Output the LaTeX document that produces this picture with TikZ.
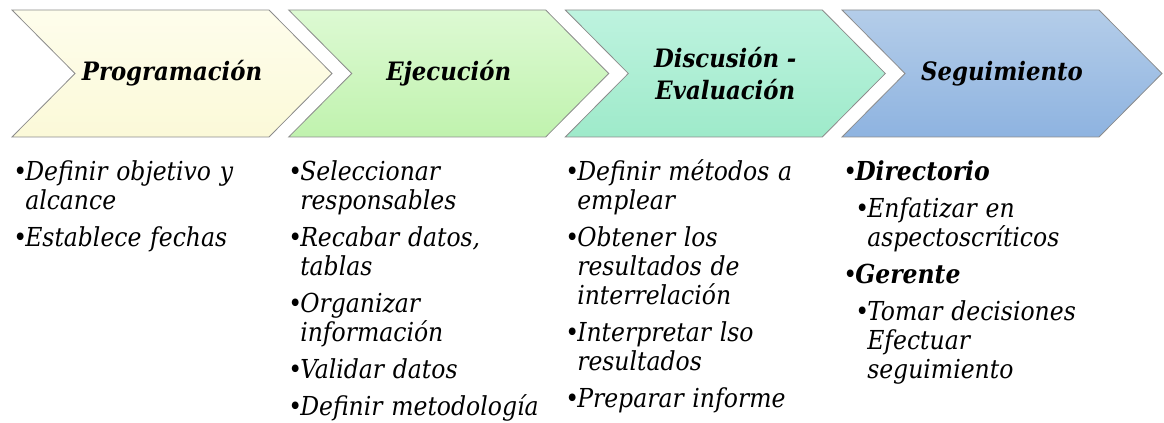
\documentclass[tikz,border=0pt]{standalone}
\usepackage{fontspec}
\setmainfont{DejaVu Serif Condensed}

\definecolor{progTop}{RGB}{254,253,236}
\definecolor{progBot}{RGB}{251,249,216}
\definecolor{ejecTop}{RGB}{221,250,211}
\definecolor{ejecBot}{RGB}{192,242,174}
\definecolor{discTop}{RGB}{190,243,223}
\definecolor{discBot}{RGB}{158,234,202}
\definecolor{seguTop}{RGB}{180,205,233}
\definecolor{seguBot}{RGB}{142,179,224}
\definecolor{chevLine}{RGB}{140,140,140}

% bullet item, optional extra indent
\newcommand{\itm}[2][0pt]{\par\noindent\hangindent=\dimexpr#1+9pt\relax\hangafter=1\hspace*{#1}\makebox[9pt][l]{\textbullet}#2}

\begin{document}
\begin{tikzpicture}[x=0.75pt,y=0.75pt,yscale=-1,
  chev/.style={draw=chevLine,line width=0.6pt},
  title/.style={font=\fontsize{19}{24.5}\selectfont\bfseries\itshape,align=center,inner sep=0pt},
  items/.style={font=\fontsize{19.6}{21.75}\selectfont\itshape,text width=270pt,align=left,inner sep=0pt,anchor=north west,
    execute at begin node={\setlength{\parskip}{6pt}}}]
\useasboundingbox (0,0) rectangle (1164,423);

%Shape: Chevron [Programacion]
\draw [chev,top color=progTop,bottom color=progBot] (12,10) -- (269,10) -- (332,73.5) -- (269,137) -- (12,137) -- (75,73.5) -- cycle ;
%Shape: Chevron [Ejecucion]
\draw [chev,top color=ejecTop,bottom color=ejecBot] (288.7,10) -- (545.7,10) -- (608.7,73.5) -- (545.7,137) -- (288.7,137) -- (351.7,73.5) -- cycle ;
%Shape: Chevron [Discusion]
\draw [chev,top color=discTop,bottom color=discBot] (565.3,10) -- (822.3,10) -- (885.3,73.5) -- (822.3,137) -- (565.3,137) -- (628.3,73.5) -- cycle ;
%Shape: Chevron [Seguimiento]
\draw [chev,top color=seguTop,bottom color=seguBot] (842,10) -- (1099,10) -- (1162,73.5) -- (1099,137) -- (842,137) -- (905,73.5) -- cycle ;

% Text Node
\node [title] (prog) at (172,73.5) {Programación};
% Text Node
\node [title] (ejec) at (448.7,73.5) {Ejecución};
% Text Node
\node [title] (disc) at (725.3,73.5) {Discusión -\\Evaluación};
% Text Node
\node [title] (segu) at (1002,73.5) {Seguimiento};

% Text Node
\node [items] (progList) at (13,143) {%
  \itm{Definir objetivo y\newline alcance}
  \itm{Establece fechas}\par};
% Text Node
\node [items] (ejecList) at (288,143) {%
  \itm{Seleccionar\newline responsables}
  \itm{Recabar datos,\newline tablas}
  \itm{Organizar\newline información}
  \itm{Validar datos}
  \itm{Definir metodología}\par};
% Text Node
\node [items] (discList) at (565,143) {%
  \itm{Definir métodos a\newline emplear}
  \itm{Obtener los\newline resultados de\newline interrelación}
  \itm{Interpretar lso\newline resultados}
  \itm{Preparar informe}\par};
% Text Node
\node [items] (seguList) at (843,143) {%
  \itm{\textbf{Directorio}}
  \itm[9pt]{Enfatizar en\newline aspectoscríticos}
  \itm{\textbf{Gerente}}
  \itm[9pt]{Tomar decisiones\newline Efectuar\newline seguimiento}\par};

\end{tikzpicture}
\end{document}
